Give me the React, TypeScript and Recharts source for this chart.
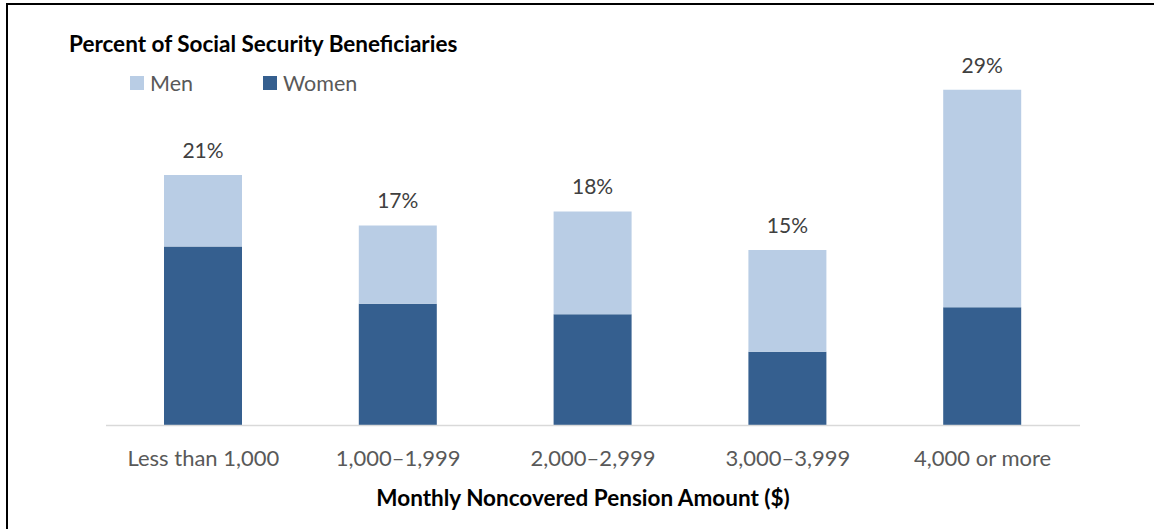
import { BarChart, Bar, XAxis, YAxis, LabelList } from "recharts";

const categories = [
  "Less than 1,000",
  "1,000\u20131,999",
  "2,000\u20132,999",
  "3,000\u20133,999",
  "4,000 or more",
];
const women = [15.3, 10.4, 9.5, 6.3, 10.1];
const men = [6.1, 6.7, 8.8, 8.7, 18.6];
const totalLabels = ["21%", "17%", "18%", "15%", "29%"];

const MEN_COLOR = "#b9cde5";
const WOMEN_COLOR = "#355f8f";
const FONT = "Lato, 'Open Sans', sans-serif";

const data = categories.map((name, i) => ({
  name,
  women: women[i],
  men: men[i],
  label: totalLabels[i],
}));

const legendItems = [
  { name: "Men", color: MEN_COLOR },
  { name: "Women", color: WOMEN_COLOR },
];

export default function App() {
  return (
    <div
      style={{
        position: "absolute",
        left: 0,
        top: 0,
        width: 1154,
        height: 529,
        background: "#fff",
        overflow: "hidden",
      }}
    >
      {/* frame edges */}
      <div style={{ position: "absolute", left: 6, top: 3, width: 1148, height: 526, borderLeft: "2px solid #000", borderTop: "2px solid #000" }} />
      <div
        style={{
          position: "absolute",
          left: 69,
          top: 30,
          fontFamily: FONT,
          fontWeight: "bold",
          fontSize: 22.5,
          color: "#000",
        }}
      >
        Percent of Social Security Beneficiaries
      </div>
      <div
        style={{
          position: "absolute",
          left: 130,
          top: 70,
          display: "flex",
          fontFamily: FONT,
          fontSize: 21.5,
          color: "#595959",
        }}
      >
        {legendItems.map((it) => (
          <div key={it.name} style={{ display: "flex", alignItems: "center", width: 133 }}>
            <span
              style={{ display: "inline-block", width: 14, height: 14, background: it.color, marginRight: 6 }}
            />
            {it.name}
          </div>
        ))}
      </div>
      <BarChart
        width={1154}
        height={529}
        data={data}
        margin={{ top: 74.5, right: 74, left: 106, bottom: 43.5 }}
        style={{ position: "absolute", left: 0, top: 0 }}
      >
        <XAxis
          dataKey="name"
          height={60}
          axisLine={{ stroke: "#d9d9d9", strokeWidth: 1.5 }}
          tickLine={false}
          tickSize={0}
          tickMargin={24.5}
          tick={{ fontFamily: FONT, fontSize: 22, fill: "#595959" }}
          interval={0}
        />
        <YAxis hide domain={[0, 30]} />
        <Bar dataKey="women" stackId="a" fill={WOMEN_COLOR} barSize={78} isAnimationActive={false} />
        <Bar dataKey="men" stackId="a" fill={MEN_COLOR} barSize={78} isAnimationActive={false}>
          <LabelList
            dataKey="label"
            position="top"
            offset={17}
            style={{ fontFamily: FONT, fontSize: 21, fill: "#404040" }}
          />
        </Bar>
      </BarChart>
      <div
        style={{
          position: "absolute",
          left: 0,
          width: 1166,
          top: 484,
          textAlign: "center",
          fontFamily: FONT,
          fontWeight: "bold",
          fontSize: 22.5,
          color: "#000",
        }}
      >
        Monthly Noncovered Pension Amount ($)
      </div>
    </div>
  );
}
